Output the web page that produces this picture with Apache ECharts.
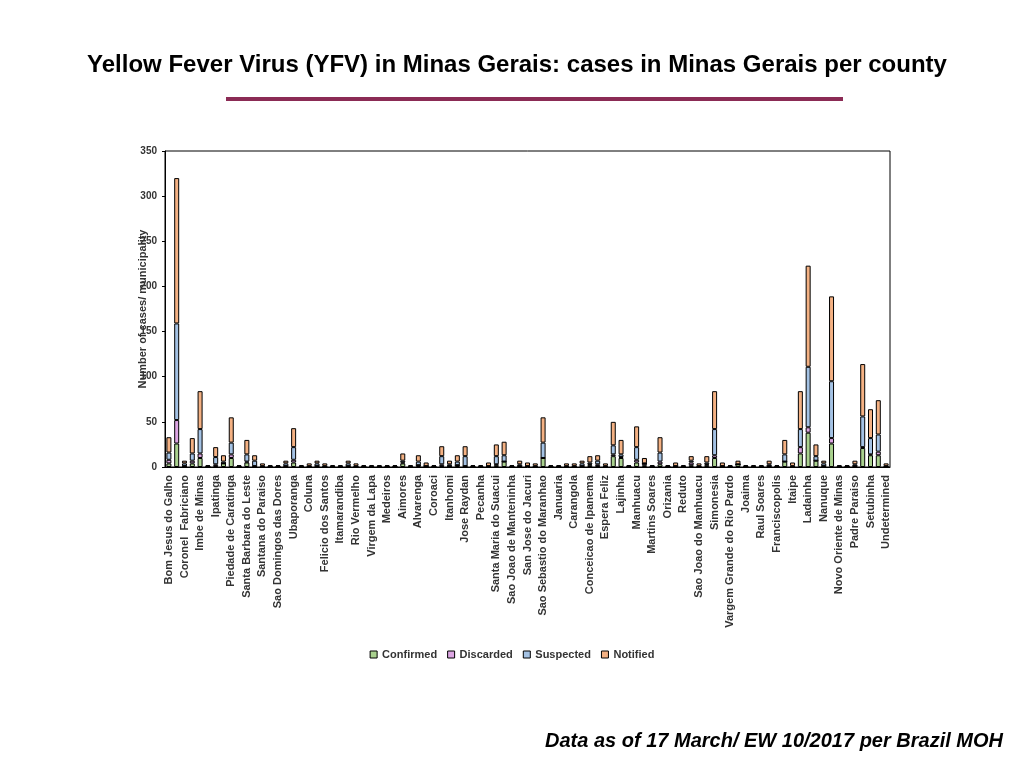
<!DOCTYPE html>
<html><head><meta charset="utf-8">
<script src="https://cdn.jsdelivr.net/npm/echarts@6/dist/echarts.min.js"></script>
<style>body{margin:0;background:#fff}#c{width:1024px;height:768px}</style></head>
<body><div id="c"></div>
<script>
const labeled = ["Bom Jesus do Galho","Coronel  Fabriciano","Imbe de Minas","Ipatinga","Piedade de Caratinga","Santa Barbara do Leste","Santana do Paraiso","Sao Domingos das Dores","Ubaporanga","Coluna","Felicio dos Santos","Itamarandiba","Rio Vermelho","Virgem da Lapa","Medeiros","Aimores","Alvarenga","Coroaci","Itanhomi","Jose Raydan","Pecanha","Santa Maria do Suacui","Sao Joao de Manteninha","San Jose do Jacuri","Sao Sebastio do Maranhao","Januaria","Carangola","Conceicao de Ipanema","Espera Feliz","Lajinha","Manhuacu","Martins Soares","Orizania","Reduto","Sao Joao do Manhuacu","Simonesia","Vargem Grande do Rio Pardo","Joaima","Raul Soares","Franciscopolis","Itaipe","Ladainha","Nanuque","Novo Oriente de Minas","Padre Paraiso","Setubinha","Undetermined"];
const categories = [];
labeled.forEach((n,i)=>{categories.push(n); if(i<labeled.length-1) categories.push(" ".repeat(i+1));});
const confirmed = [4,26,1,4,10,0,1,4,10,0,5,1,0,0,0,1,5,0,0,1,0,0,0,1,0,0,0,0,0,0,4,0,2,1,0,1,1,2,1,0,0,1,2,6,0,1,1,0,10,0,0,0,0,1,2,1,0,12,10,0,5,2,0,3,0,1,0,2,0,2,10,1,0,3,0,0,0,1,0,6,0,15,38,7,1,26,0,0,1,21,13,13,0];
const discarded = [4,26,0,3,5,0,2,0,4,0,1,0,0,0,0,0,3,0,0,0,0,0,0,0,0,0,0,0,0,0,1,0,0,0,0,2,0,0,0,0,0,0,1,0,0,0,0,0,0,0,0,0,0,0,1,2,0,2,1,0,3,2,0,3,0,0,0,3,0,1,3,0,0,0,0,0,0,0,0,0,0,7,6,0,0,6,0,0,0,1,1,4,0];
const suspected = [8,107,3,8,27,1,8,2,13,1,8,6,1,1,1,3,14,1,1,3,1,1,1,3,1,1,1,1,1,1,2,1,4,0,1,9,2,4,11,1,1,0,9,7,1,2,0,1,17,1,1,1,1,3,2,4,1,10,3,1,14,0,1,10,1,0,1,2,1,2,29,0,1,0,1,1,1,2,1,8,1,20,67,5,3,63,1,1,2,34,18,19,1];
const notified = [17,161,3,17,42,1,11,7,28,1,16,6,3,1,1,3,21,1,3,3,3,1,1,3,3,1,1,1,1,1,8,1,7,4,1,11,4,7,11,1,1,4,13,15,1,4,4,3,28,1,1,3,3,3,7,6,3,26,16,1,23,6,1,17,1,4,1,5,3,7,42,4,1,4,1,1,1,4,1,16,4,42,112,13,3,94,1,1,4,58,32,38,3];
const yTicks = [0,50,100,150,200,250,300,350];
const mk=(name,data,color)=>({name,type:'bar',stack:'a',data,barWidth:5,
  itemStyle:{color,borderColor:'#000',borderWidth:1}});
const chart = echarts.init(document.getElementById('c'));
chart.setOption({
  animation:false,
  title:{text:'Yellow Fever Virus (YFV) in Minas Gerais: cases in Minas Gerais per county',left:512,top:48,textAlign:'center',
    textStyle:{fontFamily:'Liberation Sans',fontWeight:'bold',fontSize:24,color:'#000'}},
  graphic:[
    {type:'rect',shape:{x:226,y:97,width:617,height:4},style:{fill:'#8b2b55'}},
    {type:'text',right:21,top:731,style:{text:'Data as of 17 March/ EW 10/2017 per Brazil MOH',font:'italic bold 20px Liberation Sans',fill:'#000'}},
    {type:'text',x:143,y:309,rotation:Math.PI/2,z:10,style:{text:'Number of cases/ municipality',font:'bold 11px Liberation Sans',fill:'#333',align:'center',verticalAlign:'middle'}}
  ],
  legend:{top:644,left:'center',itemWidth:7,itemHeight:7,itemGap:10,icon:'rect',
    itemStyle:{borderColor:'#000',borderWidth:1},
    textStyle:{fontFamily:'Liberation Sans',fontWeight:'bold',fontSize:11,color:'#333'},
    data:['Confirmed','Discarded','Suspected','Notified']},
  grid:{left:165,right:134,top:151,bottom:301,show:true,borderColor:'#000',borderWidth:1},
  xAxis:{type:'category',data:categories,
    axisLine:{lineStyle:{color:'#000'}},axisTick:{show:false},
    axisLabel:{interval:1,rotate:90,fontFamily:'Liberation Sans',fontWeight:'bold',fontSize:11,color:'#333',margin:8}},
  yAxis:{type:'value',min:0,max:350,interval:50,
    axisLine:{show:true,lineStyle:{color:'#000'}},axisTick:{show:true,length:3},splitLine:{show:false},
    axisLabel:{fontFamily:'Liberation Sans',fontWeight:'bold',fontSize:10,color:'#333',
      formatter:v=>yTicks.includes(v)?String(v):''}},
  series:[mk('Confirmed',confirmed,'#a9d18e'),mk('Discarded',discarded,'#dda6e3'),
    mk('Suspected',suspected,'#a4c2e4'),mk('Notified',notified,'#f4b183')]
});
</script></body></html>
